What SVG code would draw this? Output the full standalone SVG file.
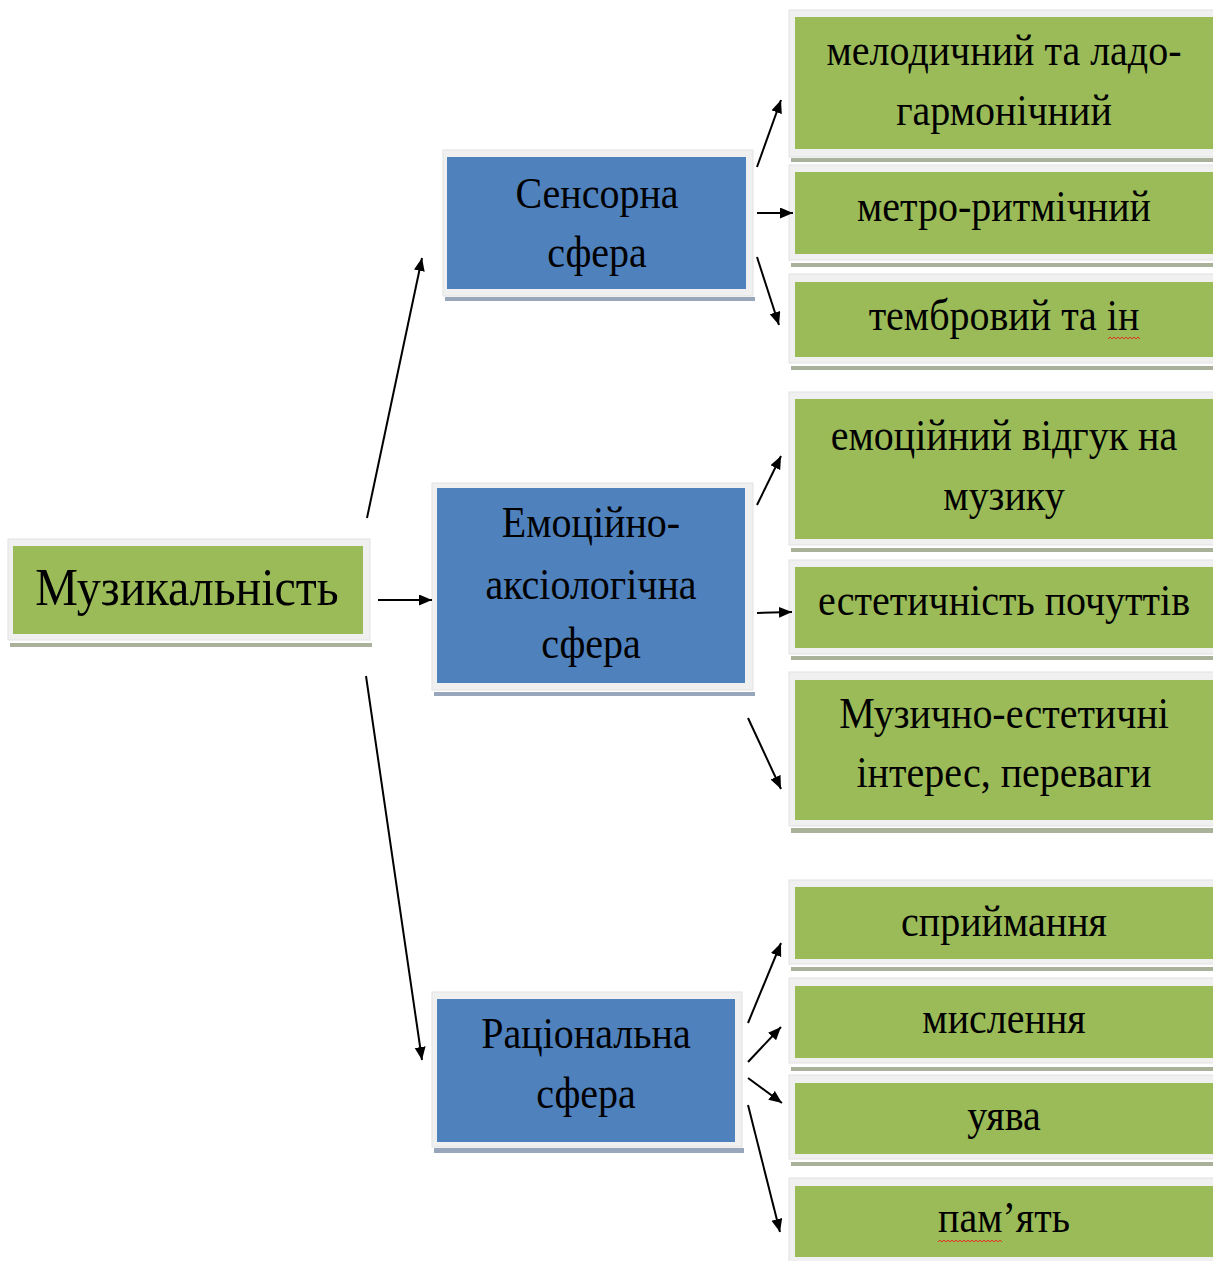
<svg xmlns="http://www.w3.org/2000/svg" width="1213" height="1261" viewBox="0 0 1213 1261">
<style>
.frame{fill:#f0f0f0;stroke:#e2e2e2;stroke-width:1}
.g{fill:#9bbb59}
.b{fill:#4f81bd}
.gs{fill:#a9b19a}
.bs{fill:#97a6bb}
.t{font-family:"Liberation Serif","Times New Roman",serif;font-size:40px;fill:#000;text-anchor:middle}
.big{font-size:48px}
.c{stroke:#000;stroke-width:2;fill:none;marker-end:url(#ah)}
.sq{stroke:#e03020;stroke-width:1;fill:none}
</style>
<defs>
<marker id="ah" markerUnits="userSpaceOnUse" markerWidth="14" markerHeight="12" refX="13" refY="5.5" orient="auto">
<path d="M0,0 L13,5.5 L0,11 z" fill="#000"/>
</marker>
</defs>
<rect width="1213" height="1261" fill="#fff"/>

<g id="muzykalnist">
<rect class="gs" x="10" y="643" width="362" height="4"/>
<rect class="frame" x="8" y="539" width="362" height="101"/>
<rect class="g" x="13" y="546" width="350" height="88"/>
<text class="t big" transform="translate(187,605) scale(1,1.08)">Музикальність</text>
</g>

<g id="sensorna">
<rect class="bs" x="445" y="297" width="310" height="4"/>
<rect class="frame" x="443" y="150" width="310" height="146"/>
<rect class="b" x="447" y="157" width="299" height="132"/>
<text class="t" transform="translate(597,208) scale(1,1.1)"><tspan x="0" y="0">Сенсорна</tspan><tspan x="0" y="53.6">сфера</tspan></text>
</g>

<g id="emotsiino">
<rect class="bs" x="434" y="692" width="321" height="4"/>
<rect class="frame" x="432" y="483" width="321" height="207"/>
<rect class="b" x="437" y="488" width="308" height="195"/>
<text class="t" transform="translate(591,537) scale(1,1.1)"><tspan x="0" y="0">Емоційно-</tspan><tspan x="0" y="56">аксіологічна</tspan><tspan x="0" y="110">сфера</tspan></text>
</g>

<g id="ratsionalna">
<rect class="bs" x="434" y="1148" width="310" height="5"/>
<rect class="frame" x="432" y="992" width="310" height="155"/>
<rect class="b" x="437" y="999" width="298" height="143"/>
<text class="t" transform="translate(586,1048) scale(1,1.1)"><tspan x="0" y="0">Раціональна</tspan><tspan x="0" y="54.5">сфера</tspan></text>
</g>

<g id="melodychnyi">
<rect class="gs" x="791" y="158" width="430" height="4"/>
<rect class="frame" x="789" y="10" width="430" height="147"/>
<rect class="g" x="795" y="17" width="430" height="132"/>
<text class="t" transform="translate(1004,65) scale(1,1.1)"><tspan x="0" y="0">мелодичний та ладо-</tspan><tspan x="0" y="54.5">гармонічний</tspan></text>
</g>

<g id="metro">
<rect class="gs" x="791" y="263" width="430" height="4"/>
<rect class="frame" x="789" y="165" width="430" height="95"/>
<rect class="g" x="795" y="172" width="430" height="82"/>
<text class="t" transform="translate(1004,221) scale(1,1.1)">метро-ритмічний</text>
</g>

<g id="tembrovyi">
<rect class="gs" x="791" y="366" width="430" height="4"/>
<rect class="frame" x="789" y="274" width="430" height="89"/>
<rect class="g" x="795" y="282" width="430" height="75"/>
<text class="t" transform="translate(1004,330) scale(1,1.1)">тембровий та ін</text>
<path class="sq" d="M1108,339 l2,-2 l2,2 l2,-2 l2,2 l2,-2 l2,2 l2,-2 l2,2 l2,-2 l2,2 l2,-2 l2,2 l2,-2 l2,2 l2,-2 l2,2"/>
</g>

<g id="emotsiinyi-vidguk">
<rect class="gs" x="791" y="548" width="430" height="4"/>
<rect class="frame" x="789" y="392" width="430" height="153"/>
<rect class="g" x="795" y="399" width="430" height="140"/>
<text class="t" transform="translate(1004,450) scale(1,1.1)"><tspan x="0" y="0">емоційний відгук на</tspan><tspan x="0" y="54.5">музику</tspan></text>
</g>

<g id="estetychnist">
<rect class="gs" x="791" y="656" width="430" height="4"/>
<rect class="frame" x="789" y="560" width="430" height="94"/>
<rect class="g" x="795" y="567" width="430" height="81"/>
<text class="t" transform="translate(1004,615) scale(1,1.1)">естетичність почуттів</text>
</g>

<g id="muzychno-estetychni">
<rect class="gs" x="791" y="828" width="430" height="5"/>
<rect class="frame" x="789" y="672" width="430" height="154"/>
<rect class="g" x="795" y="680" width="430" height="140"/>
<text class="t" transform="translate(1004,728) scale(1,1.1)"><tspan x="0" y="0">Музично-естетичні</tspan><tspan x="0" y="53.6">інтерес, переваги</tspan></text>
</g>

<g id="spryimannia">
<rect class="gs" x="791" y="967" width="430" height="4"/>
<rect class="frame" x="789" y="880" width="430" height="84"/>
<rect class="g" x="795" y="887" width="430" height="72"/>
<text class="t" transform="translate(1004,936) scale(1,1.1)">сприймання</text>
</g>

<g id="myslennia">
<rect class="gs" x="791" y="1067" width="430" height="4"/>
<rect class="frame" x="789" y="978" width="430" height="85"/>
<rect class="g" x="795" y="986" width="430" height="72"/>
<text class="t" transform="translate(1004,1033) scale(1,1.1)">мислення</text>
</g>

<g id="uiava">
<rect class="gs" x="791" y="1162" width="430" height="4"/>
<rect class="frame" x="789" y="1075" width="430" height="84"/>
<rect class="g" x="795" y="1083" width="430" height="71"/>
<text class="t" transform="translate(1004,1130) scale(1,1.1)">уява</text>
</g>

<g id="pamiat">
<rect class="frame" x="789" y="1178" width="430" height="90"/>
<rect class="g" x="795" y="1186" width="430" height="71"/>
<text class="t" transform="translate(1004,1232) scale(1,1.1)">пам’ять</text>
<path class="sq" d="M938,1242 l2,-2 l2,2 l2,-2 l2,2 l2,-2 l2,2 l2,-2 l2,2 l2,-2 l2,2 l2,-2 l2,2 l2,-2 l2,2 l2,-2 l2,2 l2,-2 l2,2 l2,-2 l2,2 l2,-2 l2,2 l2,-2 l2,2 l2,-2 l2,2 l2,-2 l2,2 l2,-2 l2,2 l2,-2 l2,2"/>
</g>

<g id="connectors">
<line class="c" x1="367" y1="518" x2="422" y2="258"/>
<line class="c" x1="378" y1="600" x2="432" y2="600"/>
<line class="c" x1="366" y1="676" x2="422" y2="1060"/>
<line class="c" x1="757" y1="167" x2="781" y2="100"/>
<line class="c" x1="757" y1="213" x2="793" y2="213"/>
<line class="c" x1="757" y1="257" x2="779" y2="325"/>
<line class="c" x1="757" y1="505" x2="781" y2="456"/>
<line class="c" x1="757" y1="613" x2="792" y2="612"/>
<line class="c" x1="748" y1="718" x2="781" y2="789"/>
<line class="c" x1="748" y1="1023" x2="781" y2="943"/>
<line class="c" x1="748" y1="1062" x2="781" y2="1027"/>
<line class="c" x1="748" y1="1078" x2="782" y2="1103"/>
<line class="c" x1="748" y1="1105" x2="780" y2="1232"/>
</g>
</svg>
